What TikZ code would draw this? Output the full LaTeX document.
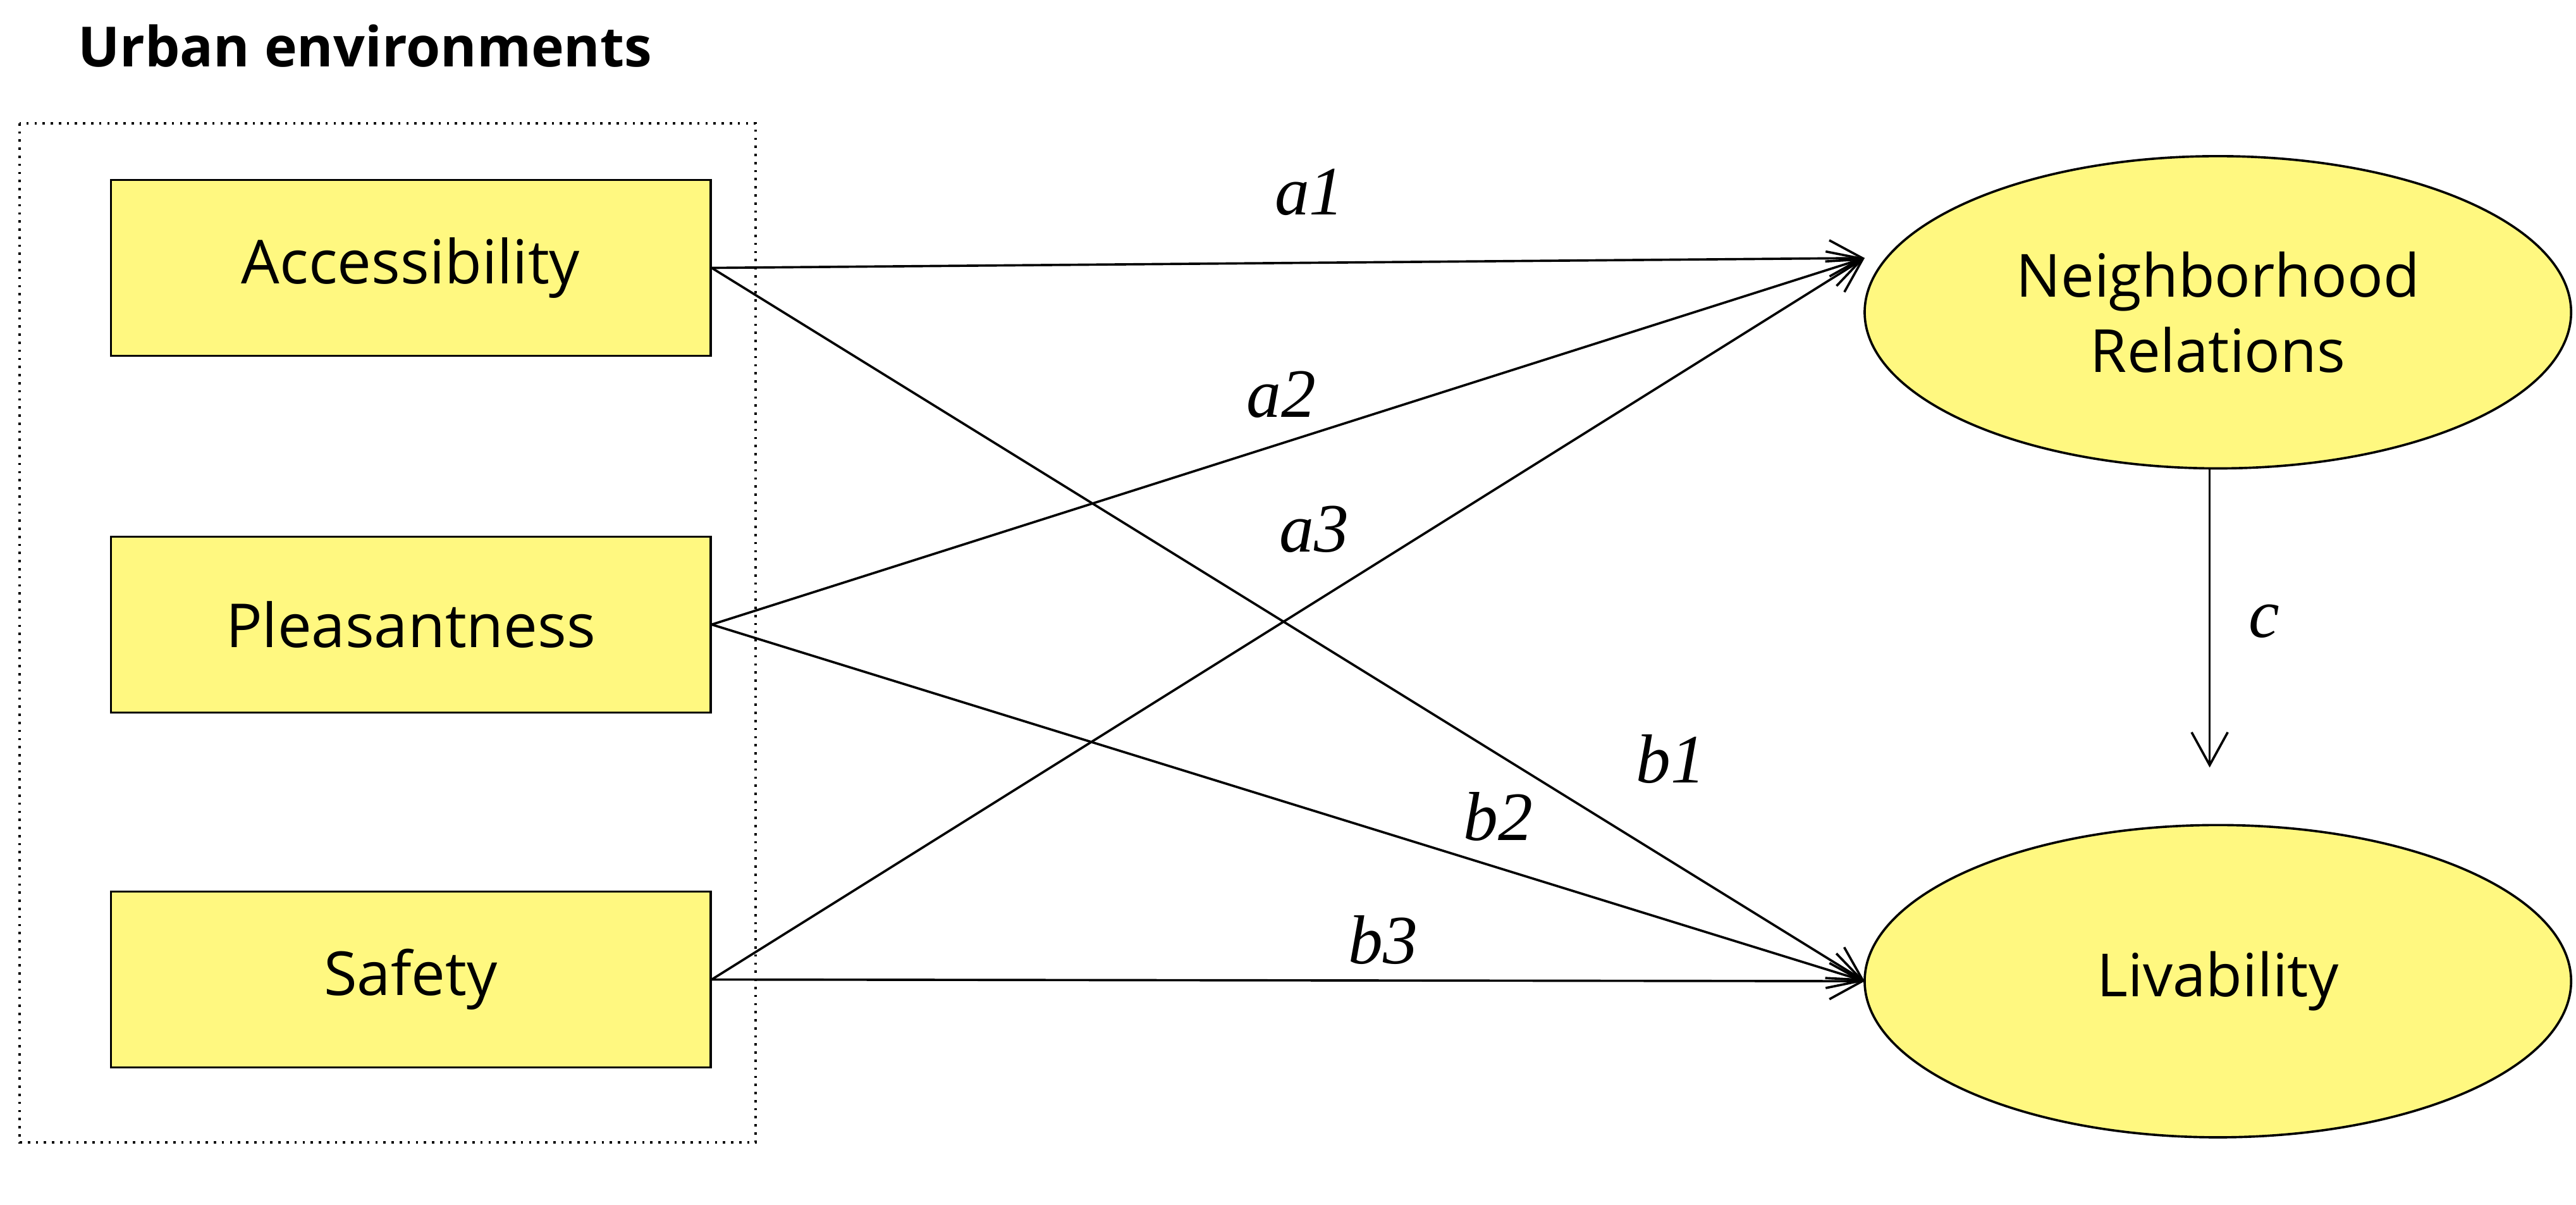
\documentclass[tikz,border=0pt]{standalone}
\usepackage{fontspec}
\setmainfont{Open Sans}
\newfontfamily\lblfont{Liberation Serif}
\usetikzlibrary{arrows.meta,shapes.geometric}
\begin{document}
\begin{tikzpicture}[
  factor/.style={rectangle,draw,fill=yellow!50,minimum width=3.65cm,minimum height=1.07cm,font=\fontsize{10.5}{12}\selectfont},
  latent/.style={ellipse,draw,fill=yellow!50,minimum width=4.3cm,minimum height=1.9cm,align=center,font=\fontsize{10.3}{13}\selectfont},
  path/.style={-{Straight Barb[length=2mm,width=2.2mm]},thin},
  coef/.style={font=\lblfont\itshape\fontsize{12}{14}\selectfont}
]
\useasboundingbox (0,0) rectangle (15.68,-7.33);
\draw[densely dotted] (0.12,-0.75) rectangle (4.6,-6.95);
\node[font=\bfseries\fontsize{9.6}{12}\selectfont,anchor=west] (title) at (0.35,-0.28) {Urban environments};
\path
(2.5,-1.63) node[factor](acc) {Accessibility}
(2.5,-3.8) node[factor](ple) {Pleasantness}
(2.5,-5.96) node[factor](saf) {Safety}
(13.5,-1.9) node[latent](nr) {Neighborhood\\Relations}
(13.5,-5.97) node[latent](liv) {Livability};

\coordinate (nrin) at (11.35,-1.57);
\coordinate (livin) at (11.35,-5.97);

\draw[path] (acc.east) -- (nrin);
\draw[path] (ple.east) -- (nrin);
\draw[path] (saf.east) -- (nrin);
\draw[path] (acc.east) -- (livin);
\draw[path] (ple.east) -- (livin);
\draw[path] (saf.east) -- (livin);
\draw[path,shorten >=0.35cm] (13.45,-2.85) -- (13.45,-5.02);

\path
(7.97,-1.17) node[coef](a1) {a1}
(7.8,-2.4) node[coef](a2) {a2}
(8.0,-3.22) node[coef](a3) {a3}
(10.17,-4.62) node[coef](b1) {b1}
(9.12,-4.97) node[coef](b2) {b2}
(8.42,-5.72) node[coef](b3) {b3}
(13.78,-3.78) node[coef](c) {c};
\end{tikzpicture}
\end{document}
